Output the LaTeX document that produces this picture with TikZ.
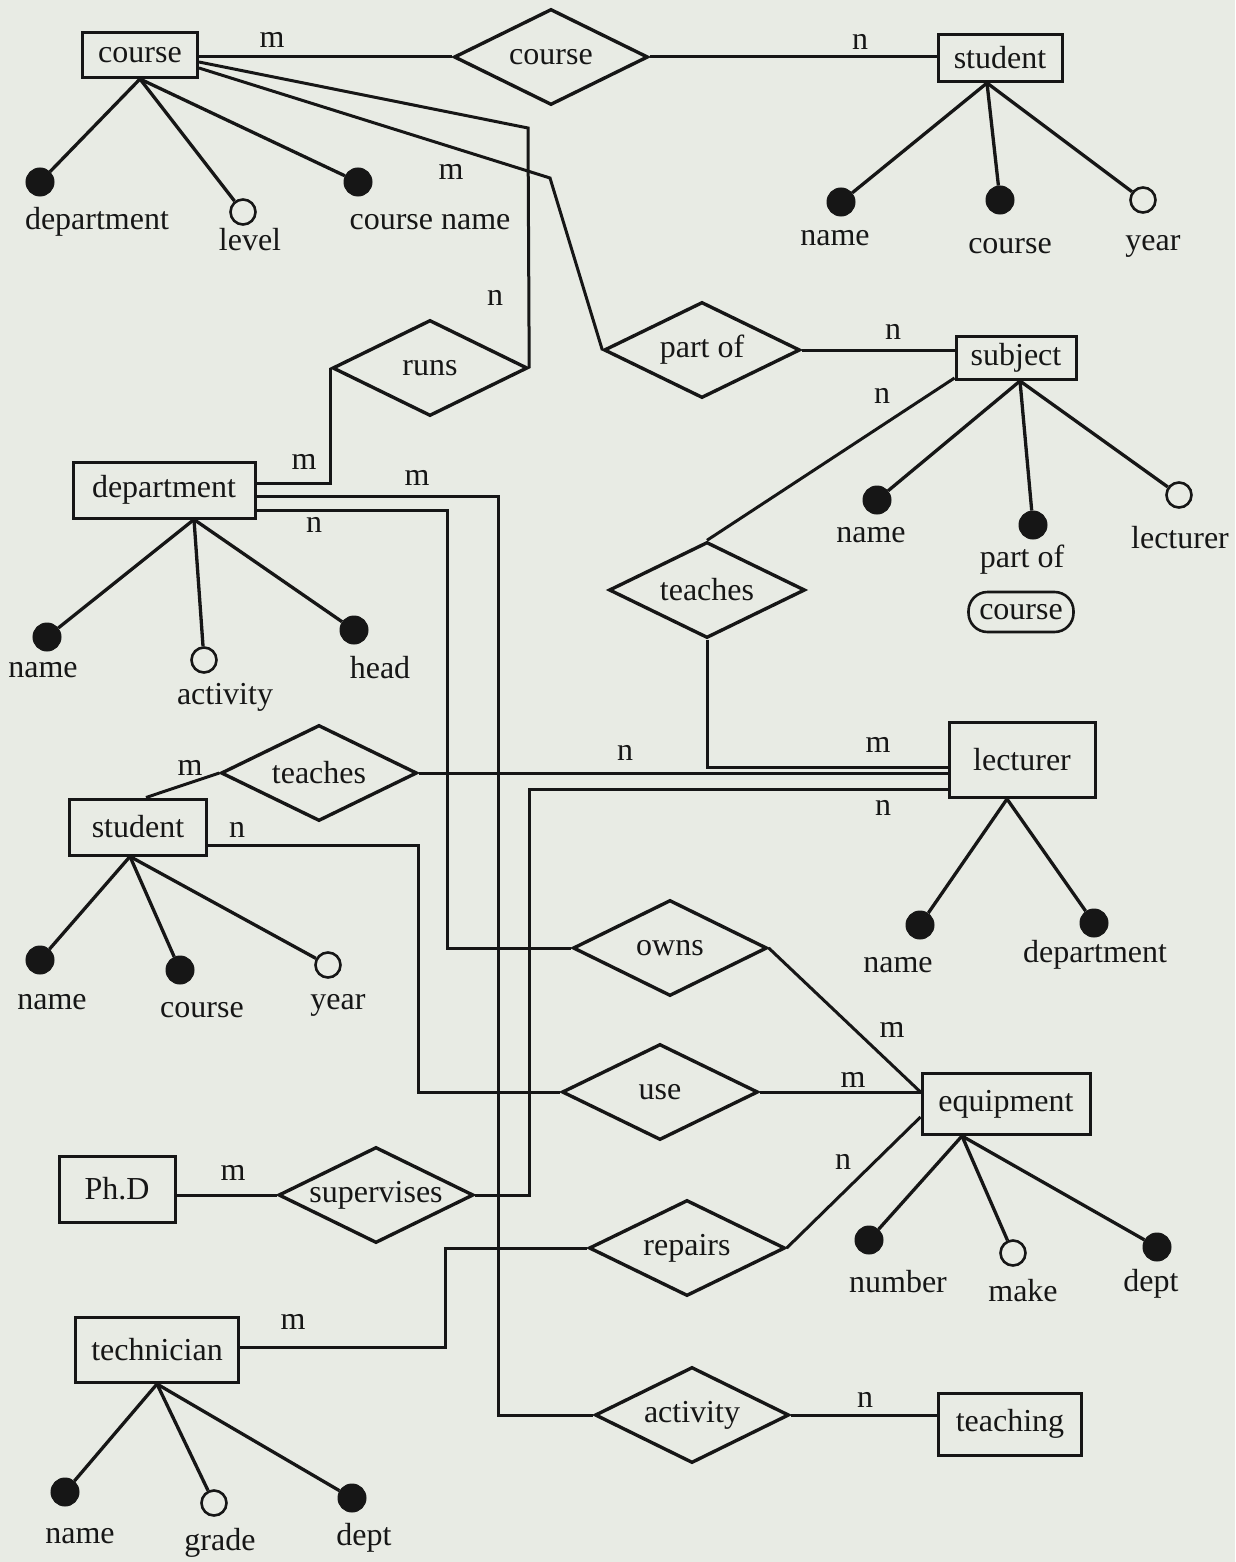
\documentclass[tikz,border=0pt]{standalone}
\usepackage{fontspec}
\setmainfont{Liberation Serif}
\usetikzlibrary{shapes.geometric,calc}
\definecolor{paper}{RGB}{232,235,228}
\definecolor{ink}{RGB}{22,22,22}
\begin{document}
\begin{tikzpicture}[x=1pt,y=-1pt,
  every node/.style={font=\fontsize{32}{38}\selectfont, text=ink},
  entity/.style={draw=ink, line width=3pt, inner sep=0pt, rectangle},
  rel/.style={draw=ink, line width=3.4pt, diamond, shape aspect=2.1, inner sep=0pt, minimum width=196pt, minimum height=96pt},
  conn/.style={draw=ink, line width=3pt},
  attr/.style={draw=ink, line width=3.3pt},
  key/.style={circle, fill=ink, draw=ink, line width=1pt, inner sep=0pt, minimum size=28pt},
  nokey/.style={circle, fill=paper, draw=ink, line width=2.6pt, inner sep=0pt, minimum size=25pt},
  card/.style={inner sep=0pt},
  lbl/.style={inner sep=0pt}]
\fill[paper] (0,0) rectangle (1235,1562);
\useasboundingbox (0,0) rectangle (1235,1562);

% ---------- entities ----------
\node[entity, minimum width=115pt, minimum height=45pt] (courseE) at (140,55) {course};
\node[entity, minimum width=124pt, minimum height=47pt] (studentT) at (1000,58) {student};
\node[entity, minimum width=120pt, minimum height=43pt] (subjectE) at (1016,358) {subject};
\node[entity, minimum width=182pt, minimum height=56pt] (deptE) at (164,490) {department};
\node[entity, minimum width=146pt, minimum height=75pt] (lecturerE) at (1022,760) {lecturer};
\node[entity, minimum width=137pt, minimum height=56pt] (studentM) at (138,827) {student};
\node[entity, minimum width=168pt, minimum height=61pt] (equipE) at (1006,1104) {equipment};
\node[entity, minimum width=116pt, minimum height=66pt] (phdE) at (117,1189) {Ph.D};
\node[entity, minimum width=163pt, minimum height=65pt] (techE) at (157,1350) {technician};
\node[entity, minimum width=143pt, minimum height=62pt] (teachingE) at (1010,1424) {teaching};

% ---------- relationships ----------
\node[rel, minimum width=194pt] (courseR) at (551,57) {course};
\node[rel] (partofR) at (702,350) {part of};
\node[rel, minimum width=195pt] (runsR) at (430,368) {runs};
\node[rel] (teachesU) at (707,590) {teaches};
\node[rel] (teachesL) at (319,773) {teaches};
\node[rel, minimum width=194pt] (ownsR) at (670,948) {owns};
\node[rel] (useR) at (660,1092) {use};
\node[rel, minimum width=195pt] (supervR) at (376,1195) {supervises};
\node[rel] (repairsR) at (687,1248) {repairs};
\node[rel, minimum width=194pt] (activityR) at (692,1415) {activity};

% ---------- connectors ----------
\draw[conn] (courseR.west -| courseE.east) -- (courseR.west);
\draw[conn] (courseR.east) -- (courseR.east -| studentT.west);
\draw[conn] ([yshift=-7pt]courseE.east) -- (528,128) -- (runsR.east);
\draw[conn] ([yshift=-13pt]courseE.east) -- (550,178) -- (partofR.west);
\draw[conn] (partofR.east) -- (partofR.east -| subjectE.west);
\draw[conn] ([yshift=3pt]subjectE.south west) -- (teachesU.north);
\draw[conn] (teachesU.south) |- ([yshift=-7pt]lecturerE.west);
\draw[conn] (teachesL.east) -- (teachesL.east -| lecturerE.west);
\draw[conn] (teachesL.west) -- ([xshift=8pt]studentM.north);
\draw[conn] ([yshift=7pt]deptE.east) -| (runsR.west);
\draw[conn] ([yshift=-6pt]deptE.east) -| (498,1415) -- (activityR.west);
\draw[conn] ([yshift=-20pt]deptE.east) -| (447,948) -- (ownsR.west);
\draw[conn] ([yshift=-18pt]studentM.east) -| (418,1092) -- (useR.west);
\draw[conn] (supervR.east) -- (529,1195) |- ([yshift=-29pt]lecturerE.west);
\draw[conn] (supervR.west -| phdE.east) -- (supervR.west);
\draw[conn] ([yshift=3pt]techE.east) -| (445,1248) -- (repairsR.west);
\draw[conn] (repairsR.east) -- ([yshift=-13pt]equipE.west);
\draw[conn] (useR.east) -- (useR.east -| equipE.west);
\draw[conn] (ownsR.east) -- (useR.east -| equipE.west);
\draw[conn] (activityR.east) -- (activityR.east -| teachingE.west);

% ---------- cardinalities ----------
\node[card] (k1) at (272,40) {m};
\node[card] (k2) at (860,42) {n};
\node[card] (k3) at (451,172) {m};
\node[card] (k4) at (495,298) {n};
\node[card] (k5) at (893,332) {n};
\node[card] (k6) at (882,396) {n};
\node[card] (k7) at (304,462) {m};
\node[card] (k8) at (417,478) {m};
\node[card] (k9) at (314,525) {n};
\node[card] (k10) at (190,768) {m};
\node[card] (k11) at (625,753) {n};
\node[card] (k12) at (878,745) {m};
\node[card] (k13) at (883,808) {n};
\node[card] (k14) at (237,830) {n};
\node[card] (k15) at (892,1030) {m};
\node[card] (k16) at (853,1080) {m};
\node[card] (k17) at (843,1162) {n};
\node[card] (k18) at (233,1173) {m};
\node[card] (k19) at (293,1322) {m};
\node[card] (k20) at (865,1400) {n};

% ---------- attributes: course ----------
\node[key] (cA1) at (40,182) {};
\node[nokey] (cA2) at (243,212) {};
\node[key] (cA3) at (358,182) {};
\draw[attr] (courseE.south) -- (cA1);
\draw[attr] (courseE.south) -- (cA2);
\draw[attr] (courseE.south) -- (cA3);
\node[lbl] (cL1) at (97,222) {department};
\node[lbl] (cL2) at (250,240) {level};
\node[lbl] (cL3) at (430,222) {course name};

% ---------- attributes: student (top) ----------
\node[key] (sA1) at (841,202) {};
\node[key] (sA2) at (1000,200) {};
\node[nokey] (sA3) at (1143,200) {};
\draw[attr] ([xshift=-13pt]studentT.south) -- (sA1);
\draw[attr] ([xshift=-13pt]studentT.south) -- (sA2);
\draw[attr] ([xshift=-13pt]studentT.south) -- (sA3);
\node[lbl] (sL1) at (835,238) {name};
\node[lbl] (sL2) at (1010,246) {course};
\node[lbl] (sL3) at (1153,246) {year};

% ---------- attributes: subject ----------
\node[key] (jA1) at (877,500) {};
\node[key] (jA2) at (1033,525) {};
\node[nokey] (jA3) at (1179,495) {};
\draw[attr] ([xshift=4pt]subjectE.south) -- (jA1);
\draw[attr] ([xshift=4pt]subjectE.south) -- (jA2);
\draw[attr] ([xshift=4pt]subjectE.south) -- (jA3);
\node[lbl] (jL1) at (871,535) {name};
\node[lbl] (jL2) at (1022,560) {part of};
\node[lbl] (jL3) at (1180,538) {lecturer};
\node[draw=ink, line width=2.6pt, rounded corners=19pt, minimum width=105pt, minimum height=40pt, inner sep=0pt] (jPill) at (1021,612) {course};

% ---------- attributes: department ----------
\node[key] (dA1) at (47,637) {};
\node[nokey] (dA2) at (204,660) {};
\node[key] (dA3) at (354,630) {};
\draw[attr] ([xshift=30pt]deptE.south) -- (dA1);
\draw[attr] ([xshift=30pt]deptE.south) -- (dA2);
\draw[attr] ([xshift=30pt]deptE.south) -- (dA3);
\node[lbl] (dL1) at (43,670) {name};
\node[lbl] (dL2) at (225,697) {activity};
\node[lbl] (dL3) at (380,668) {head};

% ---------- attributes: lecturer ----------
\node[key] (lA1) at (920,925) {};
\node[key] (lA2) at (1094,923) {};
\draw[attr] ([xshift=-15pt]lecturerE.south) -- (lA1);
\draw[attr] ([xshift=-15pt]lecturerE.south) -- (lA2);
\node[lbl] (lL1) at (898,965) {name};
\node[lbl] (lL2) at (1095,955) {department};

% ---------- attributes: student (middle) ----------
\node[key] (mA1) at (40,960) {};
\node[key] (mA2) at (180,970) {};
\node[nokey] (mA3) at (328,965) {};
\draw[attr] ([xshift=-8pt]studentM.south) -- (mA1);
\draw[attr] ([xshift=-8pt]studentM.south) -- (mA2);
\draw[attr] ([xshift=-8pt]studentM.south) -- (mA3);
\node[lbl] (mL1) at (52,1002) {name};
\node[lbl] (mL2) at (202,1010) {course};
\node[lbl] (mL3) at (338,1005) {year};

% ---------- attributes: equipment ----------
\node[key] (eA1) at (869,1240) {};
\node[nokey] (eA2) at (1013,1253) {};
\node[key] (eA3) at (1157,1247) {};
\draw[attr] ([xshift=-44pt]equipE.south) -- (eA1);
\draw[attr] ([xshift=-44pt]equipE.south) -- (eA2);
\draw[attr] ([xshift=-44pt]equipE.south) -- (eA3);
\node[lbl] (eL1) at (898,1282) {number};
\node[lbl] (eL2) at (1023,1291) {make};
\node[lbl] (eL3) at (1151,1284) {dept};

% ---------- attributes: technician ----------
\node[key] (tA1) at (65,1492) {};
\node[nokey] (tA2) at (214,1503) {};
\node[key] (tA3) at (352,1498) {};
\draw[attr] (techE.south) -- (tA1);
\draw[attr] (techE.south) -- (tA2);
\draw[attr] (techE.south) -- (tA3);
\node[lbl] (tL1) at (80,1536) {name};
\node[lbl] (tL2) at (220,1543) {grade};
\node[lbl] (tL3) at (364,1538) {dept};
\end{tikzpicture}
\end{document}
